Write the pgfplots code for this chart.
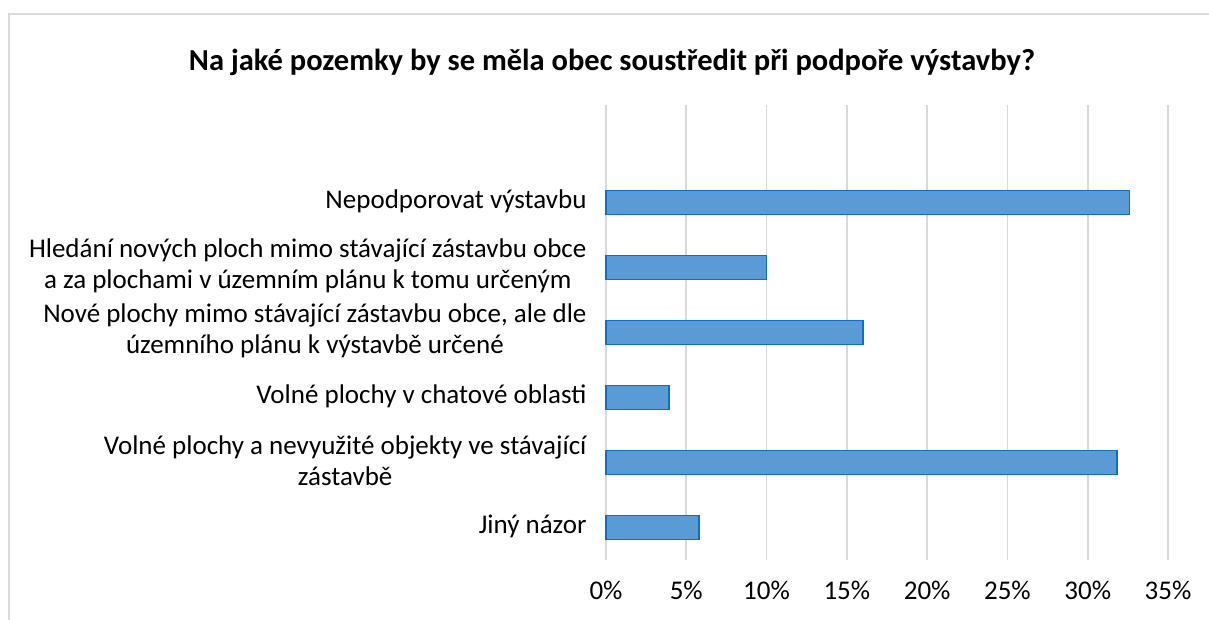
\documentclass[border=0pt]{standalone}
\usepackage{pgfplots}
\pgfplotsset{compat=1.18}
\usepackage{fontspec}
\setmainfont{Carlito}
\definecolor{barfill}{HTML}{5B9BD5}
\definecolor{baredge}{HTML}{0F6FC6}
\definecolor{gridc}{HTML}{D9D9D9}
\begin{document}
\begin{tikzpicture}[x=1pt,y=1pt]
\path[use as bounding box] (0,0) rectangle (1209,619);
\fill[white] (0,0) rectangle (1209,619);
\draw[gridc,line width=1.2pt] (9,-5) -- (9,605) -- (1215,605);
\node[font=\fontsize{30.5}{36}\selectfont\bfseries] at (612,557) {Na jaké pozemky by se měla obec soustředit při podpoře výstavby?};
\begin{axis}[
  scale only axis, width=562pt, height=455pt,
  at={(606pt,59pt)}, anchor=south west,
  xbar, bar width=24pt,
  xmin=0, xmax=35, ymin=-0.5, ymax=6.5,
  xtick={0,5,...,35},
  xticklabels={0\%,5\%,10\%,15\%,20\%,25\%,30\%,35\%},
  ytick={0,1,2,3,4,5},
  yticklabels={Jiný názor,{Volné plochy a nevyužité objekty ve stávající\\zástavbě},Volné plochy v chatové oblasti,{Nové plochy mimo stávající zástavbu obce, ale dle\\územního plánu k výstavbě určené},{Hledání nových ploch mimo stávající zástavbu obce\\a za plochami v územním plánu k tomu určeným},Nepodporovat výstavbu},
  yticklabel style={align=center, font=\fontsize{27}{31}\selectfont, xshift=-16pt, yshift=1.5pt},
  xticklabel style={font=\fontsize{27}{31}\selectfont, yshift=-18pt},
  major tick length=0pt,
  xmajorgrids, grid style={gridc, line width=1.8pt},
  axis line style={draw=none},
  clip=false,
]
\addplot[fill=barfill, draw=baredge, line width=1.8pt] coordinates {(5.8,0) (31.8,1) (3.9,2) (16.0,3) (10.0,4) (32.6,5)};
\end{axis}
\end{tikzpicture}
\end{document}
